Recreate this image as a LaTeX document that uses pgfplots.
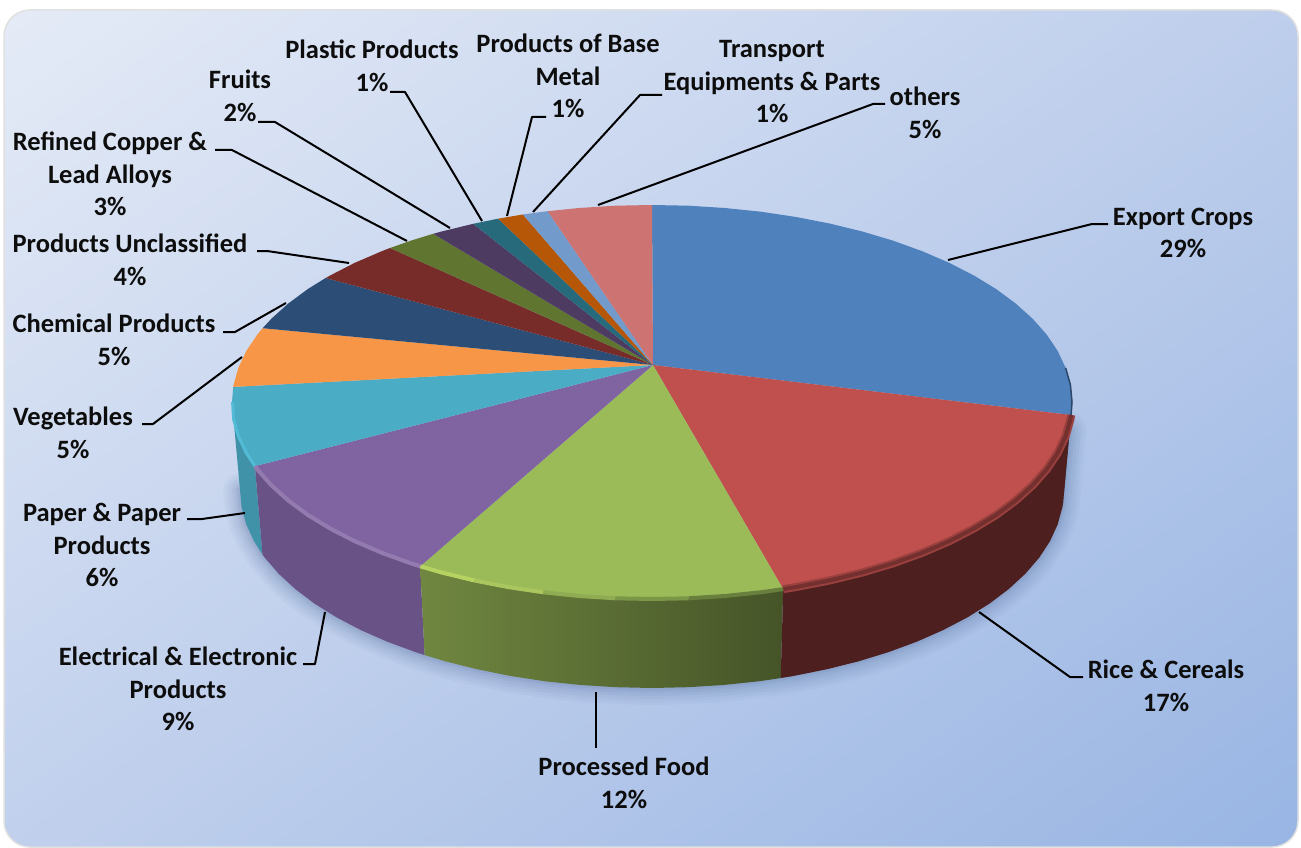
\documentclass[border=0pt]{standalone}
\usepackage{pgfplots}
\usepackage{pgfplotstable}
\usepackage{fontspec}
\pgfplotsset{compat=1.18}
\setmainfont{Carlito}
\definecolor{cExport}{HTML}{4F81BD}
\definecolor{cRice}{HTML}{C0504D}
\definecolor{cFood}{HTML}{9BBB59}
\definecolor{cElec}{HTML}{8064A2}
\definecolor{cPaper}{HTML}{4BACC6}
\definecolor{cVeg}{HTML}{F79646}
\definecolor{cChem}{HTML}{2C4D75}
\definecolor{cUncl}{HTML}{772C2A}
\definecolor{cRef}{HTML}{5F7530}
\definecolor{cFruit}{HTML}{4D3B62}
\definecolor{cPlast}{HTML}{276A7C}
\definecolor{cMetal}{HTML}{B65708}
\definecolor{cTrans}{HTML}{729ACA}
\definecolor{cOther}{HTML}{CD7371}
\definecolor{cTxt}{HTML}{0D0D0D}
\definecolor{bgA}{HTML}{E6ECF7}
\definecolor{bgB}{HTML}{97B4E3}
\definecolor{bgM}{HTML}{BFCFEC}
\definecolor{shd}{HTML}{5F78A8}
\pgfdeclareverticalshading{bgs}{100bp}{color(0bp)=(bgB); color(14bp)=(bgB); color(50bp)=(bgM); color(86bp)=(bgA); color(100bp)=(bgA)}
\pgfplotstableread{
x y
1070 430
1064 490
1062.4 507.3
1057.7 524.4
1050 541.2
1039.2 557.7
1025.4 573.7
1008.8 589
989.5 603.6
967.6 617.3
943.3 630
916.8 641.7
888.3 652.2
858 661.5
826.1 669.4
792.9 676.1
758.6 681.3
723.5 685
687.9 687.2
652 688
616.1 687.2
580.5 685
545.4 681.3
511.1 676.1
477.9 669.4
446 661.5
415.7 652.2
387.2 641.7
360.7 630
336.4 617.3
314.5 603.6
295.2 589
278.6 573.7
264.8 557.7
254 541.2
246.3 524.4
241.6 507.3
240 490
}\lowerarc
\newcommand{\lab}[3]{\node[align=center,text=cTxt,font=\fontsize{26.5}{32.5}\selectfont\bfseries,inner sep=0pt] at (axis cs:#1,#2) {#3};}
\begin{document}
\begin{tikzpicture}
\begin{axis}[
  scale only axis, width=1301pt, height=848pt,
  xmin=0, xmax=1301, ymin=0, ymax=848, y dir=reverse,
  axis lines=none, clip=false, anchor=south west, at={(0,0)},
]
\path[use as bounding box] (axis cs:0,0) rectangle (axis cs:1301,848);
% background panel
\path[rounded corners=26pt, draw=black!12, line width=1.5pt, shade, shading=bgs, shading angle=35] (axis cs:4,10) rectangle (axis cs:1298,847);

% soft shadow under the pie
\pgfplotsset{shdw/.style={draw=shd, line join=round, line cap=round, forget plot}}
\addplot[shdw, opacity=0.05, line width=34pt] table {\lowerarc};
\addplot[shdw, opacity=0.06, line width=28pt] table {\lowerarc};
\addplot[shdw, opacity=0.07, line width=22pt] table {\lowerarc};
\addplot[shdw, opacity=0.08, line width=16pt] table {\lowerarc};
\addplot[shdw, opacity=0.10, line width=10pt] table {\lowerarc};
\addplot[shdw, opacity=0.12, line width=5pt] table {\lowerarc};

% ---------- side walls
\addplot[fill=cExport!60!black, draw=none, forget plot] coordinates {(1070.4,384.8)(1072,402)(1071.1,415)(1063.1,503.1)(1064,490)} --cycle;
\addplot[fill=cPaper!85!black, draw=none, forget plot] coordinates {
(254.9,466.1)(246.3,453)(238.4,436.2)(233.6,419.2)(232,402)(240,490)(241.6,507.3)(246.3,524.4)(254,541.2)(262.5,554.5)} --cycle;
\addplot[fill=cElec!82!black, draw=none, forget plot] coordinates {
(420.2,566.3)(411.1,563.4)(382,552.9)(355,541.3)(330.3,528.6)(307.9,515)(288.3,500.5)(271.4,485.3)(257.3,469.4)(254.9,466.1)
(262.5,554.5)(264.8,557.7)(278.6,573.7)(295.2,589)(314.5,603.6)(336.4,617.3)(360.7,630)(387.2,641.7)(415.7,652.2)(424.6,655.1)} --cycle;
\addplot[left color=cFood!72!black, right color=cFood!45!black, draw=none, forget plot] coordinates {
(783.2,589.1)(760.7,592.3)(724.9,596)(688.6,598.3)(652,599)(615.4,598.3)(579.1,596)(543.3,592.3)(508.4,587.1)(474.5,580.5)(442,572.6)(420.2,566.3)
(424.6,655.1)(446,661.5)(477.9,669.4)(511.1,676.1)(545.4,681.3)(580.5,685)(616.1,687.2)(652,688)(687.9,687.2)(723.5,685)(758.6,681.3)(780.7,678.1)} --cycle;
\addplot[fill=cRice!40!black, draw=none, forget plot] coordinates {
(1071.1,415)(1070.4,419.2)(1065.6,436.2)(1057.7,453)(1046.7,469.4)(1032.6,485.3)(1015.7,500.5)(996.1,515)(973.7,528.6)(949,541.3)(922,552.9)(892.9,563.4)(862,572.6)(829.5,580.5)(795.6,587.1)(783.2,589.1)
(780.7,678.1)(792.9,676.1)(826.1,669.4)(858,661.5)(888.3,652.2)(916.8,641.7)(943.3,630)(967.6,617.3)(989.5,603.6)(1008.8,589)(1025.4,573.7)(1039.2,557.7)(1050,541.2)(1057.7,524.4)(1062.4,507.3)(1063.1,503.1)} --cycle;

% ---------- top face wedges
\addplot[fill=cExport, draw=none, forget plot] coordinates {(653,365)(652,205)(688.6,205.7)(724.9,208)(760.7,211.7)(795.6,216.9)(829.5,223.5)(862,231.4)(892.9,240.6)(922,251.1)(949,262.7)(973.7,275.4)(996.1,289)(1015.7,303.5)(1032.6,318.7)(1046.7,334.6)(1057.7,351)(1065.6,367.8)(1070.4,384.8)(1072,402)(1071.1,415)} --cycle;
\addplot[fill=cRice, draw=none, forget plot] coordinates {(653,365)(1071.1,415)(1070.4,419.2)(1065.6,436.2)(1057.7,453)(1046.7,469.4)(1032.6,485.3)(1015.7,500.5)(996.1,515)(973.7,528.6)(949,541.3)(922,552.9)(892.9,563.4)(862,572.6)(829.5,580.5)(795.6,587.1)(783.2,589.1)} --cycle;
\addplot[fill=cFood, draw=none, forget plot] coordinates {(653,365)(783.2,589.1)(760.7,592.3)(724.9,596)(688.6,598.3)(652,599)(615.4,598.3)(579.1,596)(543.3,592.3)(508.4,587.1)(474.5,580.5)(442,572.6)(420.2,566.3)} --cycle;
\addplot[fill=cElec, draw=none, forget plot] coordinates {(653,365)(420.2,566.3)(411.1,563.4)(382,552.9)(355,541.3)(330.3,528.6)(307.9,515)(288.3,500.5)(271.4,485.3)(257.3,469.4)(254.9,466.1)} --cycle;
\addplot[fill=cPaper, draw=none, forget plot] coordinates {(653,365)(254.9,466.1)(246.3,453)(238.4,436.2)(233.6,419.2)(232,402)(233.2,386.9)} --cycle;
\addplot[fill=cVeg, draw=none, forget plot] coordinates {(653,365)(233.2,386.9)(233.6,384.8)(238.4,367.8)(246.3,351)(257.3,334.6)(262.6,328.2)} --cycle;
\addplot[fill=cChem, draw=none, forget plot] coordinates {(653,365)(262.6,328.2)(271.4,318.7)(288.3,303.5)(307.9,289)(325.6,278)} --cycle;
\addplot[fill=cUncl, draw=none, forget plot] coordinates {(653,365)(325.6,278)(330.3,275.4)(355,262.7)(382,251.1)(390,248)} --cycle;
\addplot[fill=cRef, draw=none, forget plot] coordinates {(653,365)(390,248)(411.1,240.6)(433.2,233.8)} --cycle;
\addplot[fill=cFruit, draw=none, forget plot] coordinates {(653,365)(433.2,233.8)(442,231.4)(473.2,223.8)} --cycle;
\addplot[fill=cPlast, draw=none, forget plot] coordinates {(653,365)(473.2,223.8)(498.1,218.7)} --cycle;
\addplot[fill=cMetal, draw=none, forget plot] coordinates {(653,365)(498.1,218.7)(508.4,216.9)(522.9,214.5)} --cycle;
\addplot[fill=cTrans, draw=none, forget plot] coordinates {(653,365)(522.9,214.5)(543.3,211.7)(547.6,211.2)} --cycle;
\addplot[fill=cOther, draw=none, forget plot] coordinates {(653,365)(547.6,211.2)(579.1,208)(615.4,205.7)(652,205)} --cycle;

% ---------- bevel along the rim
\addplot[draw=cExport!55!black, line width=1.5pt, forget plot] coordinates {(1065.6,367.8)(1070.4,384.8)(1072,402)(1071.1,415)};
\addplot[draw=cRice!80!black, line width=8pt, forget plot] coordinates {(1071.1,415)(1070.4,419.2)(1065.6,436.2)(1057.7,453)(1046.7,469.4)(1032.6,485.3)(1015.7,500.5)(996.1,515)(973.7,528.6)(949,541.3)(922,552.9)(892.9,563.4)(862,572.6)(829.5,580.5)(795.6,587.1)(783.2,589.1)};
\addplot[draw=cRice!60!black, line width=4pt, forget plot] coordinates {(1071.1,415)(1070.4,419.2)(1065.6,436.2)(1057.7,453)(1046.7,469.4)(1032.6,485.3)(1015.7,500.5)(996.1,515)(973.7,528.6)(949,541.3)(922,552.9)(892.9,563.4)(862,572.6)(829.5,580.5)(795.6,587.1)(783.2,589.1)};
\definecolor{lipA}{HTML}{B6D362}
\definecolor{lipB}{HTML}{A9C75E}
\addplot[draw=lipA, line width=4pt, forget plot] coordinates {(420.2,566.3)(442,572.6)(474.5,580.5)};
\addplot[draw=lipB, line width=4pt, forget plot] coordinates {(474.5,580.5)(508.4,587.1)(543.3,592.3)};
\addplot[draw=cFood!92!black, line width=4pt, forget plot] coordinates {(543.3,592.3)(579.1,596)(615.4,598.3)};
\addplot[draw=cFood!80!black, line width=4pt, forget plot] coordinates {(615.4,598.3)(652,599)(688.6,598.3)};
\addplot[draw=cFood!68!black, line width=4pt, forget plot] coordinates {(688.6,598.3)(724.9,596)(760.7,592.3)(783.2,589.1)};
\addplot[draw=cElec!85!white, line width=4pt, forget plot] coordinates {(420.2,566.3)(411.1,563.4)(382,552.9)(355,541.3)(330.3,528.6)(307.9,515)(288.3,500.5)(271.4,485.3)(257.3,469.4)(254.9,466.1)};
\definecolor{lipC}{HTML}{52BBD6}
\addplot[draw=lipC, line width=3pt, forget plot] coordinates {(254.9,466.1)(246.3,453)(238.4,436.2)(233.6,419.2)(232.6,402)};

% ---------- leader lines
\pgfplotsset{ldr/.style={draw=black, line width=2pt, forget plot, line join=round}}
\addplot[ldr] coordinates {(948,260)(1092,224)(1108,224)};
\addplot[ldr] coordinates {(979,612)(1070,677)(1083,677)};
\addplot[ldr] coordinates {(596,692)(596,748)};
\addplot[ldr] coordinates {(325,612)(315,664)(303,664)};
\addplot[ldr] coordinates {(245,513)(202,519)(187,519)};
\addplot[ldr] coordinates {(242,357)(153,424)(142,424)};
\addplot[ldr] coordinates {(286,303)(235,332)(223,332)};
\addplot[ldr] coordinates {(349,263)(267,251)(257,251)};
\addplot[ldr] coordinates {(407,241)(232,150)(215,150)};
\addplot[ldr] coordinates {(450,228)(275,122)(258,122)};
\addplot[ldr] coordinates {(482,221)(405,92)(390,92)};
\addplot[ldr] coordinates {(507,216)(532,117)(546,117)};
\addplot[ldr] coordinates {(533,212)(640,95)(662,95)};
\addplot[ldr] coordinates {(598,205)(873,104)(885,104)};

% ---------- labels
\lab{1183}{233}{Export Crops\\29\%}
\lab{1166}{686}{Rice \& Cereals\\17\%}
\lab{624}{783}{Processed Food\\12\%}
\lab{178}{689}{Electrical \& Electronic\\Products\\9\%}
\lab{102}{545}{Paper \& Paper\\Products\\6\%}
\lab{73}{433}{Vegetables\\5\%}
\lab{114}{340}{Chemical Products\\5\%}
\lab{130}{260}{Products Unclassified\\4\%}
\lab{110}{174}{Refined Copper \&\\Lead Alloys\\3\%}
\lab{240}{96}{Fruits\\2\%}
\lab{372}{66}{Plastic Products\\1\%}
\lab{568}{76}{Products of Base\\Metal\\1\%}
\lab{772}{82}{Transport\\Equipments \& Parts\\1\%}
\lab{925}{113}{others\\5\%}
\end{axis}
\end{tikzpicture}
\end{document}
